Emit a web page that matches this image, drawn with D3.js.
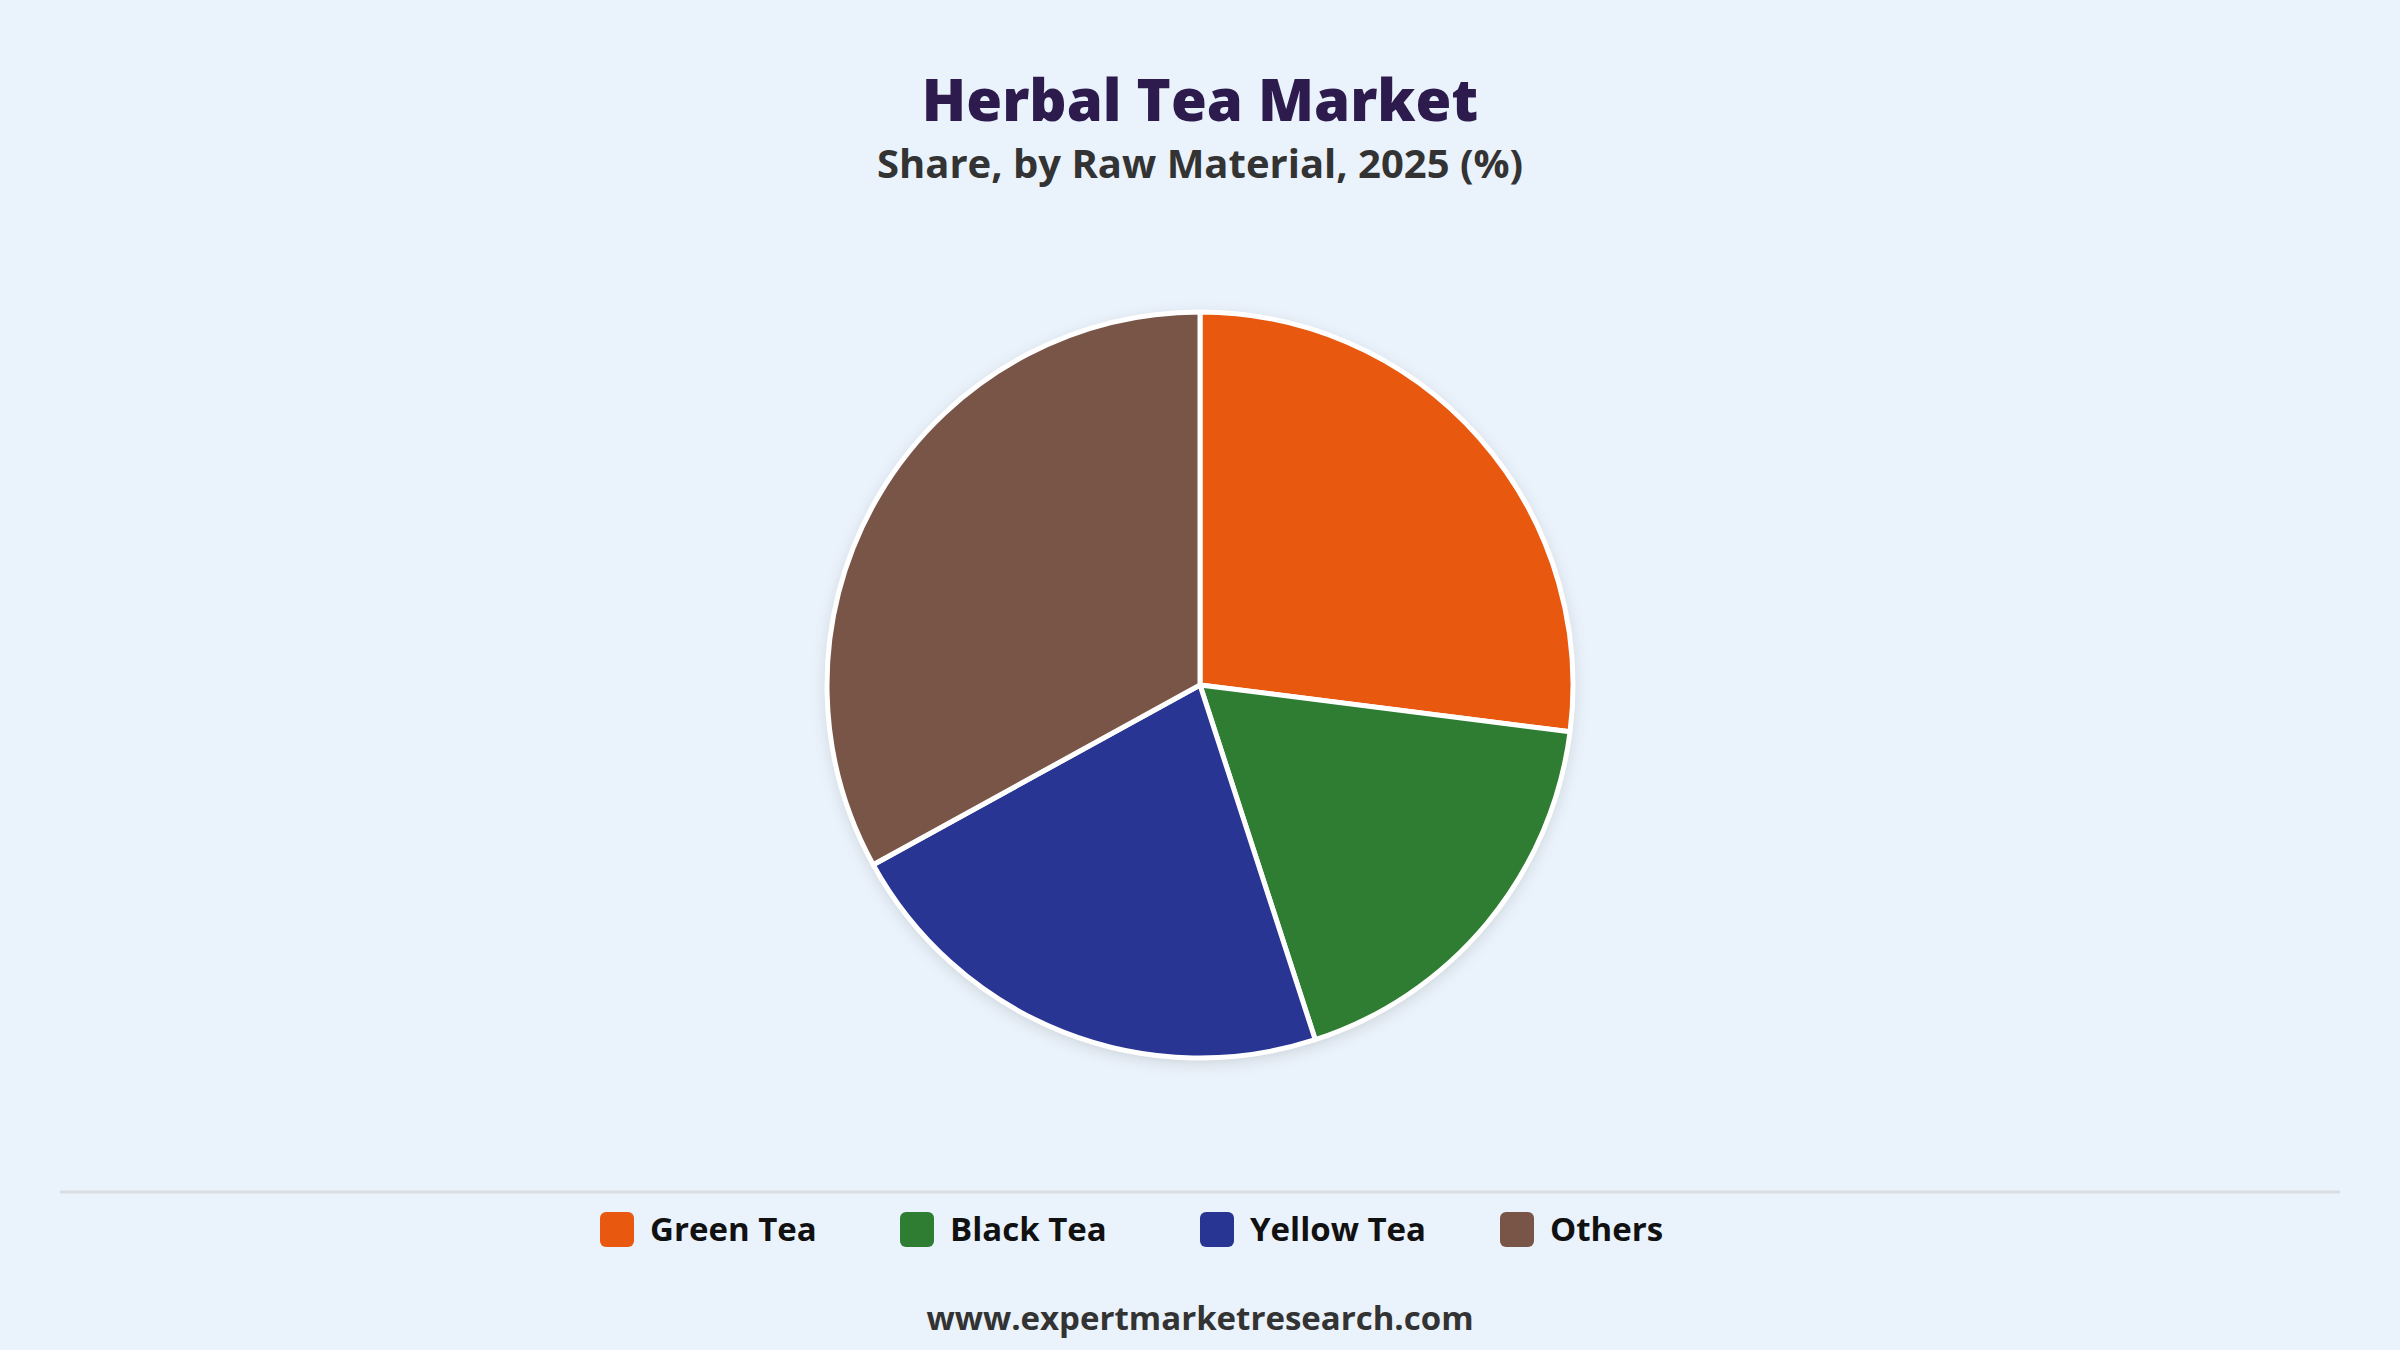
<!DOCTYPE html>
<html>
<head>
<meta charset="utf-8">
<script src="https://cdn.jsdelivr.net/npm/d3@7"></script>
<style>
  html, body { margin: 0; padding: 0; background: #eaf2fb; }
  svg { display: block; }
</style>
</head>
<body>
<script>
// chart data
var categories = ["Green Tea", "Black Tea", "Yellow Tea", "Others"];
var shares = [27, 18, 22, 33];
var colors = ["#e8590f", "#2e7d32", "#283593", "#795548"];

var W = 2400, H = 1350;
var cx = 1200, cy = 685, radius = 373;
var font = "'Open Sans', 'Noto Sans', sans-serif";

var svg = d3.select("body").append("svg")
	.attr("width", W)
	.attr("height", H);

svg.append("rect")
	.attr("width", W)
	.attr("height", H)
	.attr("fill", "#eaf2fb");

// soft shadow under the pie
var defs = svg.append("defs");
var f = defs.append("filter")
	.attr("id", "shadow")
	.attr("x", "-20%").attr("y", "-20%")
	.attr("width", "140%").attr("height", "140%");
f.append("feDropShadow")
	.attr("dx", 0)
	.attr("dy", 4)
	.attr("stdDeviation", 8)
	.attr("flood-color", "#000")
	.attr("flood-opacity", 0.15);

// titles
svg.append("text")
	.attr("x", W / 2)
	.attr("y", 121)
	.attr("text-anchor", "middle")
	.attr("font-family", font)
	.attr("font-weight", 800)
	.attr("font-size", 58)
	.attr("fill", "#2d1b4e")
	.text("Herbal Tea Market");

svg.append("text")
	.attr("x", W / 2)
	.attr("y", 178)
	.attr("text-anchor", "middle")
	.attr("font-family", font)
	.attr("font-weight", 700)
	.attr("font-size", 40)
	.attr("fill", "#333333")
	.text("Share, by Raw Material, 2025 (%)");

// pie
var pie = d3.pie().sort(null).value(function(d) { return d; });
var arc = d3.arc().innerRadius(0).outerRadius(radius);

var g = svg.append("g")
	.attr("transform", "translate(" + cx + "," + cy + ")");

g.append("circle")
	.attr("r", radius)
	.attr("fill", "#fff")
	.attr("filter", "url(#shadow)");

g.selectAll("path.slice")
	.data(pie(shares))
	.enter().append("path")
		.attr("class", "slice")
		.attr("d", arc)
		.attr("fill", function(d, i) { return colors[i]; })
		.attr("stroke", "#ffffff")
		.attr("stroke-width", 5)
		.attr("stroke-linejoin", "round");

// divider line above legend
svg.append("line")
	.attr("x1", 60)
	.attr("x2", 2340)
	.attr("y1", 1192)
	.attr("y2", 1192)
	.attr("stroke", "#d9dde3")
	.attr("stroke-width", 3);

// legend
var legend = svg.selectAll("g.legend")
	.data(categories)
	.enter().append("g")
		.attr("class", "legend")
		.attr("transform", function(d, i) { return "translate(" + (600 + i * 300) + ",1212)"; });

legend.append("rect")
	.attr("width", 34)
	.attr("height", 35)
	.attr("rx", 6)
	.attr("fill", function(d, i) { return colors[i]; });

legend.append("text")
	.attr("x", 50)
	.attr("y", 29)
	.attr("font-family", font)
	.attr("font-weight", 700)
	.attr("font-size", 33)
	.attr("fill", "#111111")
	.text(function(d) { return d; });

// footer
svg.append("text")
	.attr("x", W / 2)
	.attr("y", 1330)
	.attr("text-anchor", "middle")
	.attr("font-family", font)
	.attr("font-weight", 700)
	.attr("font-size", 33)
	.attr("fill", "#333333")
	.text("www.expertmarketresearch.com");
</script>
</body>
</html>
